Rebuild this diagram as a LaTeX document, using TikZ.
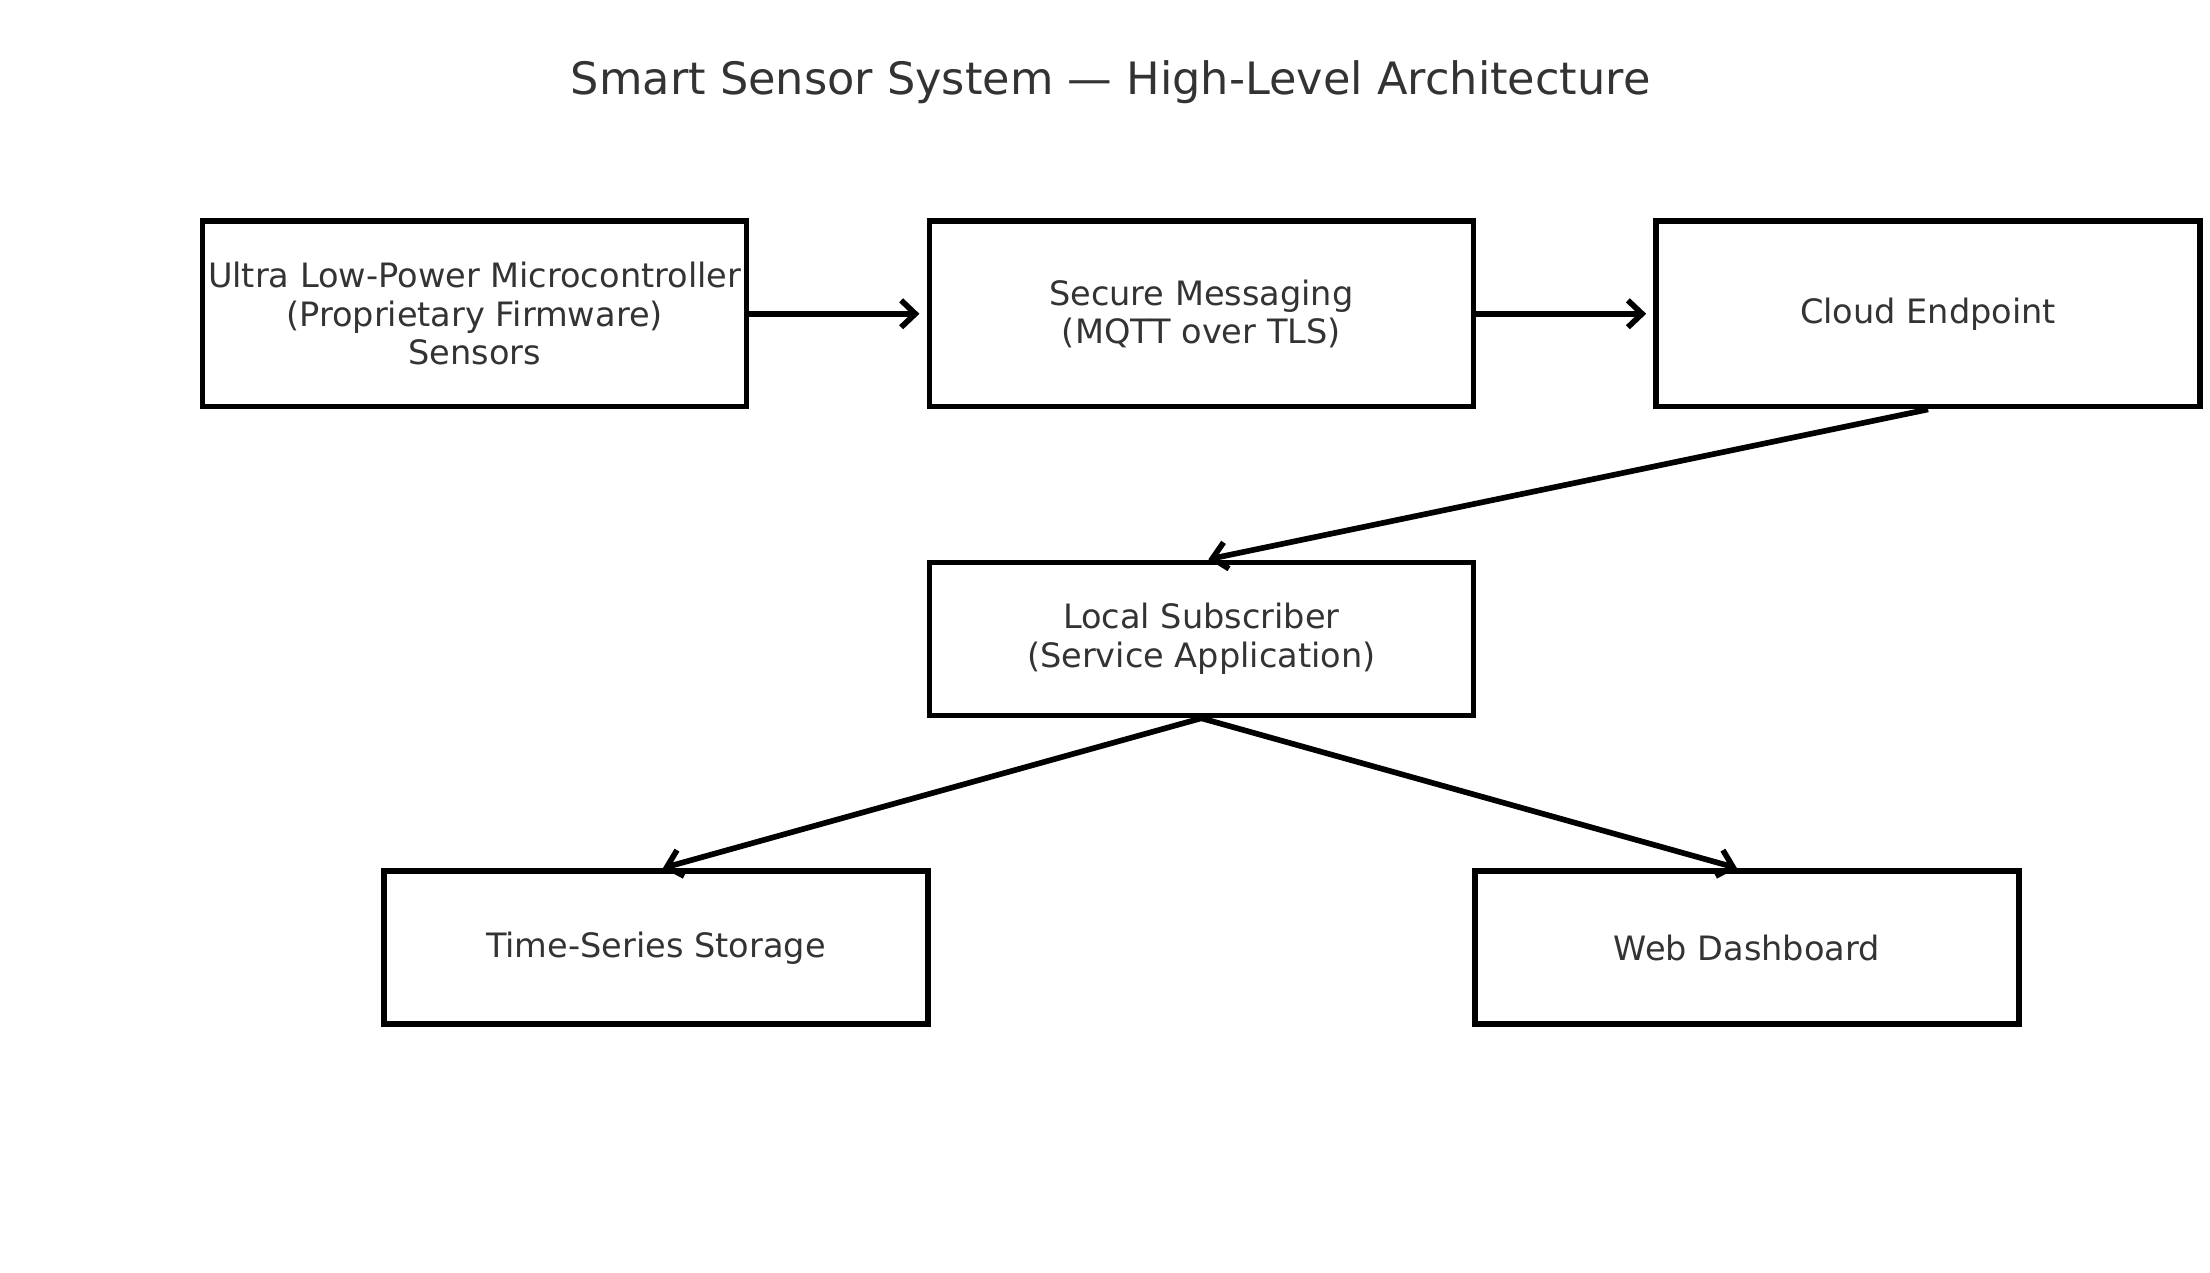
\documentclass[tikz,border=0pt]{standalone}
\usepackage{fontspec}
\setmainfont{DejaVu Sans}
\usetikzlibrary{arrows.meta}
\definecolor{txt}{HTML}{333333}
\tikzset{
  box/.style={draw=black, line width=2pt, rectangle, inner sep=0pt,
    text=txt, align=center, font=\fontsize{11.85pt}{13.6pt}\selectfont},
  bigbox/.style={box, minimum width=192pt, minimum height=65.5pt},
  smallbox/.style={box, minimum width=192pt, minimum height=54pt},
  conn/.style={line width=2pt, -{Straight Barb[length=5pt,width=9.5pt,line width=2pt]}}
}
\begin{document}
\begin{tikzpicture}[x=0.5pt,y=-0.5pt]
\useasboundingbox (0,0) rectangle (1560,898);
\node[text=txt, font=\fontsize{15.75pt}{18pt}\selectfont] (title) at (784,58) {Smart Sensor System — High-Level Architecture};
\node[bigbox] (mcu) at (335,221.5) {Ultra Low-Power Microcontroller\\(Proprietary Firmware)\\Sensors};
\node[bigbox] (msg) at (848,221.5) {Secure Messaging\\(MQTT over TLS)};
\node[bigbox] (cloud) at (1361,221.5) {Cloud Endpoint};
\node[smallbox] (sub) at (848,451) {Local Subscriber\\(Service Application)};
\node[smallbox] (ts) at (463,669) {Time-Series Storage};
\node[smallbox] (web) at (1233,669) {Web Dashboard};
\draw[conn, shorten >=2.5pt] (mcu.east) -- (msg.west);
\draw[conn, shorten >=2.5pt] (msg.east) -- (cloud.west);
\draw[conn, shorten >=0.5pt] (cloud.south) -- ([xshift=2pt]sub.north);
\draw[conn, shorten >=0.5pt] (sub.south) -- ([xshift=2pt]ts.north);
\draw[conn, shorten >=0.5pt] (sub.south) -- ([xshift=-3pt]web.north);
\end{tikzpicture}
\end{document}
